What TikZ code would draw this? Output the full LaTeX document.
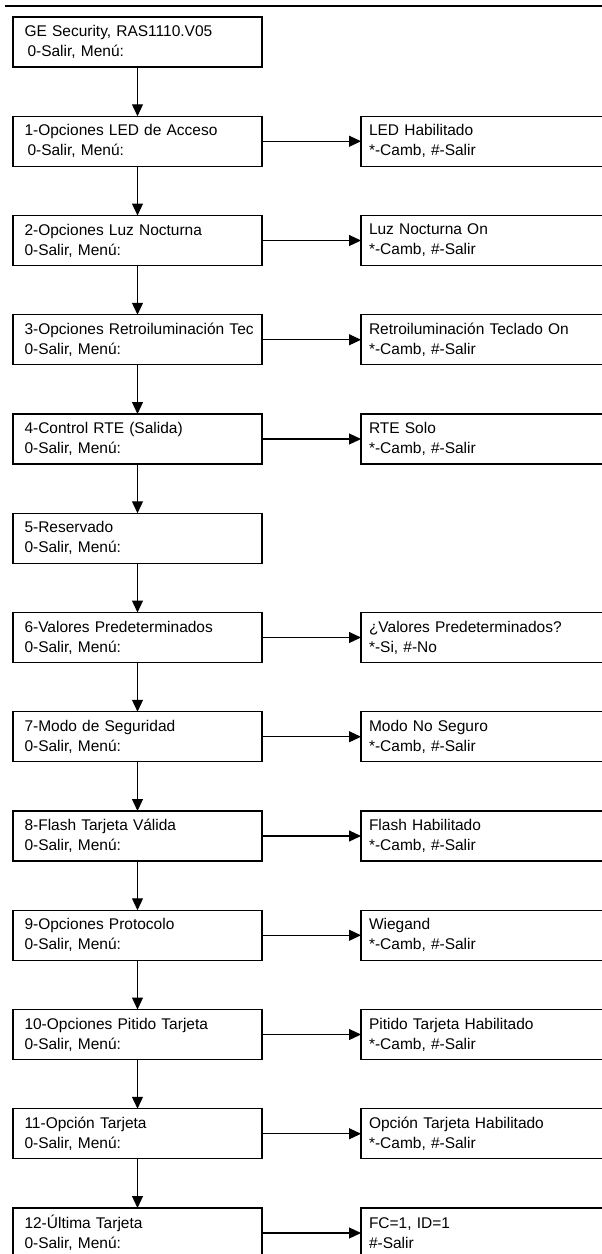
\documentclass[tikz,border=0pt]{standalone}
\usepackage{fontspec}
\setmainfont{Liberation Sans}
\usetikzlibrary{arrows.meta}
\tikzset{
	menu/.style={draw, line width=1.2pt, outer sep=0pt, anchor=north west, minimum width=249pt, minimum height=50pt, text width=226pt, inner xsep=11.5pt, inner ysep=0pt, align=left, font=\fontsize{15.5}{20}\selectfont},
	opt/.style={menu, minimum width=260pt, text width=244pt, inner xsep=8pt},
	link/.style={line width=1.2pt, -{Triangle[length=12pt, width=11pt]}}
}
\begin{document}
\begin{tikzpicture}[x=1pt, y=-1pt]
		\useasboundingbox (0,0) rectangle (602,1254);
		\clip (0,0) rectangle (602,1254);
		
		\draw[line width=2.3pt] (5,6) -- (602,6);
		
		\foreach \i/\ta/\tb in {0/{GE Security, RAS1110.V05}/{\hspace*{3pt}0-Salir, Menú:}, 1/1-Opciones LED de Acceso/{\hspace*{3pt}0-Salir, Menú:}, 2/2-Opciones Luz Nocturna/{0-Salir, Menú:}, 3/3-Opciones Retroiluminación Tec/{0-Salir, Menú:}, 4/4-Control RTE (Salida)/{0-Salir, Menú:}, 5/5-Reservado/{0-Salir, Menú:}, 6/6-Valores Predeterminados/{0-Salir, Menú:}, 7/7-Modo de Seguridad/{0-Salir, Menú:}, 8/8-Flash Tarjeta Válida/{0-Salir, Menú:}, 9/9-Opciones Protocolo/{0-Salir, Menú:}, 10/10-Opciones Pitido Tarjeta/{0-Salir, Menú:}, 11/11-Opción Tarjeta/{0-Salir, Menú:}, 12/12-Última Tarjeta/{0-Salir, Menú:}}
			\node[menu] (m\i) at (13, 17+99.25*\i) {\mbox{\ta}\\\tb};
		
		\foreach \i [count=\j from 1] in {0,...,11}
			\draw[link] (m\i) -- (m\j);
		
		\foreach \i/\ta/\tb in {1/LED Habilitado/{*-Camb, \#-Salir}, 2/Luz Nocturna On/{*-Camb, \#-Salir}, 3/Retroiluminación Teclado On/{*-Camb, \#-Salir}, 4/RTE Solo/{*-Camb, \#-Salir}, 6/¿Valores Predeterminados?/{*-Si, \#-No}, 7/Modo No Seguro/{*-Camb, \#-Salir}, 8/Flash Habilitado/{*-Camb, \#-Salir}, 9/Wiegand/{*-Camb, \#-Salir}, 10/Pitido Tarjeta Habilitado/{*-Camb, \#-Salir}, 11/Opción Tarjeta Habilitado/{*-Camb, \#-Salir}, 12/{FC=1, ID=1}/{\#-Salir}}
		{
			\node[opt] (o\i) at (361, 17+99.25*\i) {\mbox{\ta}\\\tb};
			\draw[link] (m\i) -- (o\i);
		}
\end{tikzpicture}
\end{document}
